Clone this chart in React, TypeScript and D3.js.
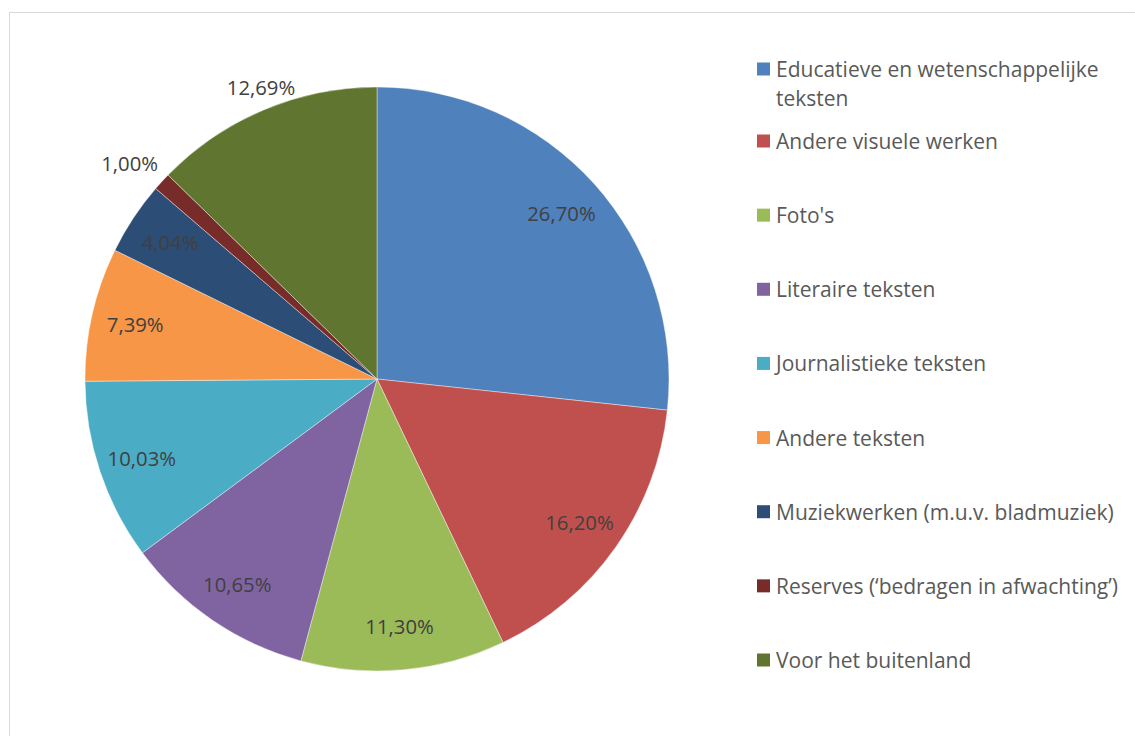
import { useEffect, useRef } from 'react'
import * as d3 from 'd3'

const categories = [
  'Educatieve en wetenschappelijke teksten',
  'Andere visuele werken',
  "Foto's",
  'Literaire teksten',
  'Journalistieke teksten',
  'Andere teksten',
  'Muziekwerken (m.u.v. bladmuziek)',
  'Reserves (‘bedragen in afwachting’)',
  'Voor het buitenland',
]
const values = [26.7, 16.2, 11.3, 10.65, 10.03, 7.39, 4.04, 1.0, 12.69]
const labels = ['26,70%', '16,20%', '11,30%', '10,65%', '10,03%', '7,39%', '4,04%', '1,00%', '12,69%']
const legendLines = [
  ['Educatieve en wetenschappelijke', 'teksten'],
  ['Andere visuele werken'],
  ["Foto's"],
  ['Literaire teksten'],
  ['Journalistieke teksten'],
  ['Andere teksten'],
  ['Muziekwerken (m.u.v. bladmuziek)'],
  ['Reserves (‘bedragen in afwachting’)'],
  ['Voor het buitenland'],
]
const colors = ['#4F81BD', '#C0504D', '#9BBB59', '#8064A2', '#4BACC6', '#F79646', '#2C4D75', '#772C2A', '#5F7530']
// labels drawn outside the pie
const outside = [false, false, false, false, false, false, false, true, true]

export default function App() {
  const svgRef = useRef<SVGSVGElement>(null)

  useEffect(() => {
    if (!svgRef.current) return
    const width = 1135
    const height = 736
    const cx = 377
    const cy = 379
    const r = 292
    const font = '"Open Sans", sans-serif'

    const svg = d3.select(svgRef.current)
    svg.selectAll('*').remove()
    svg.attr('width', width).attr('height', height)

    svg.append('rect').attr('width', width).attr('height', height).attr('fill', '#fff')

    // chart frame
    svg.append('rect')
      .attr('x', 9.5).attr('y', 12.5)
      .attr('width', width + 20).attr('height', height + 20)
      .attr('fill', 'none').attr('stroke', '#d9d9d9').attr('stroke-width', 1)

    const pie = d3.pie<number>().sort(null).value(d => d)
    const arcs = pie(values)
    const arc = d3.arc<d3.PieArcDatum<number>>().innerRadius(0).outerRadius(r)

    const g = svg.append('g').attr('transform', `translate(${cx},${cy})`)

    g.selectAll('path')
      .data(arcs)
      .join('path')
      .attr('d', arc)
      .attr('fill', (_, i) => colors[i])
      .attr('stroke', '#fff')
      .attr('stroke-width', 0.4)

    const inArc = d3.arc<d3.PieArcDatum<number>>().innerRadius(248).outerRadius(248)
    const outArc = d3.arc<d3.PieArcDatum<number>>().innerRadius(322).outerRadius(322)

    g.selectAll('text.lbl')
      .data(arcs)
      .join('text')
      .attr('class', 'lbl')
      .attr('transform', (d, i) => {
        const [x, y] = (outside[i] ? outArc : inArc).centroid(d)
        // small nudge for the outer labels, as Excel places them
        const dx = outside[i] ? (d.value < 2 ? -10 : 9) : 0
        const dy = outside[i] ? (d.value < 2 ? 2 : 5) : 0
        return `translate(${x + dx},${y + dy})`
      })
      .attr('text-anchor', 'middle')
      .attr('dominant-baseline', 'central')
      .attr('font-family', font)
      .attr('font-size', 20.3)
      .attr('fill', '#404040')
      .text((_, i) => labels[i])

    // legend
    const rowY = d3.scaleLinear().domain([1, 8]).range([141, 660])
    const legend = svg.append('g').attr('font-family', font).attr('font-size', 21).attr('fill', '#595959')
    categories.forEach((c, i) => {
      const y = i === 0 ? 69 : rowY(i)
      legend.append('rect')
        .attr('x', 757).attr('y', y - 6.5)
        .attr('width', 13).attr('height', 13)
        .attr('fill', colors[i])
      legendLines[i].forEach((line, j) => {
        legend.append('text')
          .attr('x', 776).attr('y', y + j * 29)
          .attr('dominant-baseline', 'central')
          .text(line)
      })
      void c
    })
  }, [])

  return (
    <div style={{ position: 'absolute', left: 0, top: 0 }}>
      <svg ref={svgRef} style={{ display: 'block' }} />
    </div>
  )
}
